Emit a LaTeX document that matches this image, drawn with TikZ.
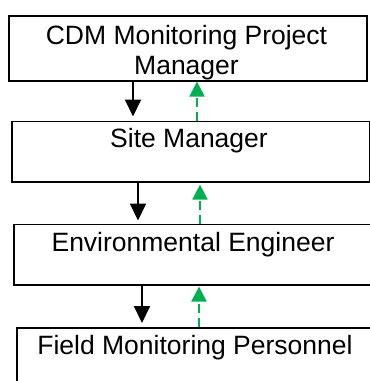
\documentclass[tikz,border=0pt]{standalone}
\usepackage{fontspec}
\setmainfont{Liberation Sans}
\usetikzlibrary{arrows.meta}
\definecolor{flowgreen}{RGB}{0,176,80}
\tikzset{
  box/.style={draw=black, line width=1.6pt, fill=white, inner sep=0pt, anchor=north west},
  lbl/.style={font=\fontsize{26.5}{30}\selectfont, inner sep=0pt, anchor=base, align=center},
  down/.style={draw=black, line width=2pt, -{Triangle[width=16pt,length=17pt]}},
  up/.style={draw=flowgreen, line width=2.2pt, dash pattern=on 9pt off 5pt, -{Triangle[width=15pt,length=15pt]}}
}
\begin{document}
\begin{tikzpicture}[x=1pt,y=-1pt]
\useasboundingbox (0,0) rectangle (370,381);
\clip (0,0) rectangle (370,381);
% boxes
\node[box, minimum width=358pt, minimum height=65pt] (b1) at (8,15) {};
\node[box, minimum width=357.5pt, minimum height=60.5pt] (b2) at (11,120.5) {};
\node[box, minimum width=367pt, minimum height=60.5pt] (b3) at (13,223.5) {};
\node[box, minimum width=369pt, minimum height=73pt] (b4) at (16,327) {};
% texts
\node[lbl] (t1a) at (186.5,44) {CDM Monitoring Project};
\node[lbl] (t1b) at (186.5,74) {Manager};
\node[lbl] (t2) at (189,147.5) {Site Manager};
\node[lbl] (t3) at (193,251) {Environmental Engineer};
\node[lbl] (t4) at (195,354) {Field Monitoring Personnel};
% arrows
\draw[down, shorten >=4pt] (133,0 |- b1.south) -- (133,0 |- b2.north);
\draw[up] (197,0 |- b2.north) -- (197,0 |- b1.south);
\draw[down, shorten >=3pt] (138,0 |- b2.south) -- (138,0 |- b3.north);
\draw[up, shorten >=2pt] (200,0 |- b3.north) -- (200,0 |- b2.south);
\draw[down, shorten >=4pt] (142,0 |- b3.south) -- (142,0 |- b4.north);
\draw[up, shorten >=1pt] (199,0 |- b4.north) -- (199,0 |- b3.south);
\end{tikzpicture}
\end{document}
